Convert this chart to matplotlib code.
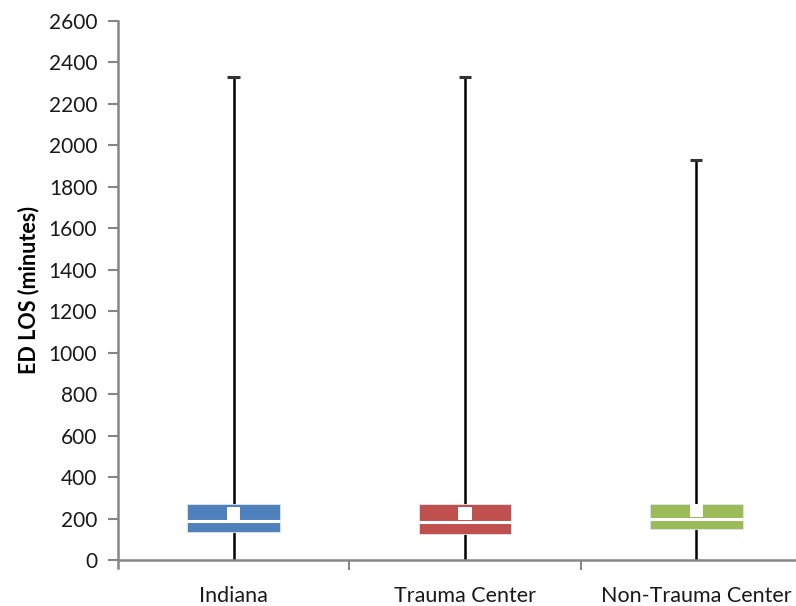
import matplotlib
matplotlib.use("Agg")
import matplotlib.pyplot as plt
from matplotlib.ticker import FixedLocator

categories = ["Indiana", "Trauma Center", "Non-Trauma Center"]
minimum = [0, 0, 0]
q1 = [135, 125, 150]
median = [188, 183, 197]
q3 = [272, 272, 272]
maximum = [2330, 2330, 1928]
mean = [226, 224, 237]
colors = ["#4F81BD", "#C0504D", "#9BBB59"]
yticks = list(range(0, 2601, 200))

plt.rcParams['font.family'] = ['Lato', 'DejaVu Sans']

fig = plt.figure(figsize=(7.96, 6.06), dpi=100)
ax = fig.add_axes([118/796, 46/606, 1 - 118/796, (560 - 21)/606])

pos = [1, 2, 3]
w = 0.40
for i, p in enumerate(pos):
    ax.vlines(p, minimum[i], maximum[i], color="black", lw=1.8, zorder=1)
    ax.hlines(maximum[i], p - 0.027, p + 0.027, color="#333333", lw=2.2, zorder=1)
    ax.bar(p, q3[i] - q1[i], bottom=q1[i], width=w, color=colors[i],
           edgecolor="#dde6f0", lw=0.6, zorder=2)
    ax.hlines(median[i], p - w/2, p + w/2, color="white", lw=2.2, zorder=3)
ax.scatter(pos, mean, marker="s", s=90, color="white", edgecolors="none", zorder=4)

ax.set_xlim(0.5, 0.5 + (796 - 118) / 231.3)
ax.set_ylim(0, 2600)
ax.set_xticks(pos)
ax.set_xticklabels(categories, fontsize=15.5, color="#1a1a1a")
ax.xaxis.set_minor_locator(FixedLocator([1.5, 2.5]))
ax.tick_params(axis="x", which="major", length=0, pad=19)
ax.tick_params(axis="x", which="minor", length=7, width=1.5, color="#868686", direction="out")
ax.set_yticks(yticks)
ax.set_yticklabels([str(v) for v in yticks], fontsize=15, color="#1a1a1a")
ax.tick_params(axis="y", length=7, width=1.5, color="#868686", direction="out", pad=8)

for s in ["top", "right"]:
    ax.spines[s].set_visible(False)
for s in ["left", "bottom"]:
    ax.spines[s].set_color("#868686")
    ax.spines[s].set_linewidth(1.8)
ax.spines["left"].set_bounds(-40, 2600)

ax.set_ylabel("ED LOS (minutes)", fontsize=15.5, fontweight="bold")
ax.yaxis.set_label_coords(-(118 - 39) / 678, 0.5)

fig.savefig("out.png", dpi=100)
